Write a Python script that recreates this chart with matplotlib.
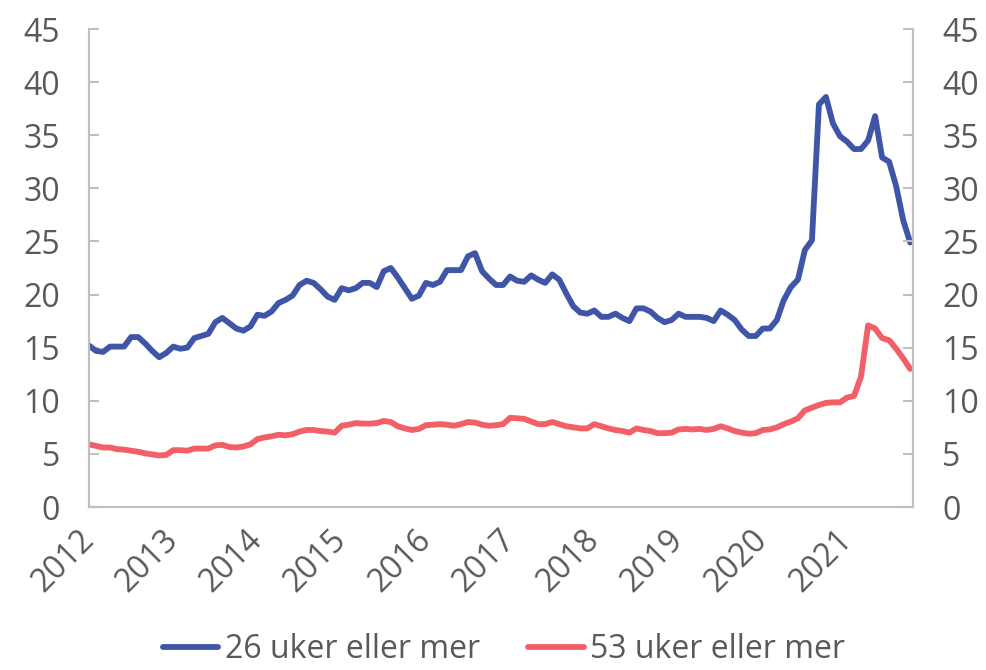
import matplotlib
matplotlib.use("Agg")
import matplotlib.pyplot as plt
import matplotlib.transforms as mtransforms
import numpy as np

plt.rcParams['font.family'] = ['Open Sans', 'DejaVu Sans']

years = ['2012', '2013', '2014', '2015', '2016', '2017', '2018', '2019', '2020', '2021']

uker26 = [15.2, 14.7, 14.6, 15.1, 15.1, 15.1, 16.0, 16.0, 15.4, 14.7, 14.1, 14.5,
          15.1, 14.9, 15.0, 15.9, 16.1, 16.3, 17.4, 17.8, 17.3, 16.8, 16.6, 17.0,
          18.1, 18.0, 18.4, 19.2, 19.5, 19.9, 20.9, 21.3, 21.1, 20.5, 19.8, 19.5,
          20.6, 20.4, 20.6, 21.1, 21.1, 20.7, 22.2, 22.5, 21.6, 20.6, 19.6, 19.9,
          21.1, 20.9, 21.2, 22.3, 22.3, 22.3, 23.6, 23.9, 22.2, 21.5, 20.9, 20.9,
          21.7, 21.3, 21.2, 21.8, 21.4, 21.1, 21.9, 21.4, 20.1, 18.9, 18.3, 18.2,
          18.5, 17.9, 17.9, 18.2, 17.8, 17.5, 18.7, 18.7, 18.4, 17.8, 17.4, 17.6,
          18.2, 17.9, 17.9, 17.9, 17.8, 17.5, 18.5, 18.1, 17.6, 16.7, 16.1, 16.1,
          16.8, 16.8, 17.6, 19.5, 20.7, 21.4, 24.2, 25.1, 37.9, 38.6, 36.1, 34.9,
          34.4, 33.7, 33.7, 34.5, 36.8, 32.9, 32.5, 30.2, 27.0, 24.9]

uker53 = [5.9, 5.75, 5.6, 5.6, 5.45, 5.4, 5.3, 5.2, 5.05, 4.95, 4.85, 4.9,
          5.35, 5.35, 5.3, 5.5, 5.5, 5.5, 5.8, 5.85, 5.65, 5.6, 5.7, 5.9,
          6.4, 6.55, 6.65, 6.8, 6.75, 6.85, 7.1, 7.25, 7.25, 7.15, 7.1, 7.0,
          7.65, 7.75, 7.9, 7.85, 7.85, 7.9, 8.1, 8.0, 7.6, 7.4, 7.25, 7.35,
          7.7, 7.75, 7.8, 7.75, 7.65, 7.8, 8.0, 7.95, 7.75, 7.65, 7.7, 7.8,
          8.4, 8.35, 8.3, 8.05, 7.8, 7.8, 8.0, 7.8, 7.6, 7.5, 7.4, 7.4,
          7.8, 7.6, 7.4, 7.25, 7.15, 7.0, 7.4, 7.25, 7.15, 6.95, 6.95, 7.0,
          7.3, 7.35, 7.3, 7.35, 7.25, 7.35, 7.6, 7.4, 7.15, 7.0, 6.9, 6.95,
          7.25, 7.3, 7.5, 7.8, 8.05, 8.35, 9.1, 9.35, 9.6, 9.8, 9.85, 9.85,
          10.3, 10.45, 12.3, 17.1, 16.8, 15.9, 15.7, 14.9, 14.0, 13.0]

labels = ['26 uker eller mer', '53 uker eller mer']

BLUE = '#3F56A8'
RED = '#F25F66'
GREY_TXT = '#595959'
GREY_AX = '#BFBFBF'
FS = 23

fig = plt.figure(figsize=(9.86, 6.70), dpi=100)
ax = fig.add_axes([89/986, 1-507/670, (913-89)/986, (507-29)/670])

x = np.arange(len(uker26))
l1, = ax.plot(x, uker26, color=BLUE, lw=4.2, solid_joinstyle='round', solid_capstyle='round', label=labels[0])
l2, = ax.plot(x, uker53, color=RED, lw=4.2, solid_joinstyle='round', solid_capstyle='round', label=labels[1])

ax.set_xlim(0, len(uker26) - 1 + 0.4)
ax.set_ylim(0, 45)
yt = np.arange(0, 46, 5)
ax.set_yticks(yt)
ax.set_yticklabels([str(v) for v in yt])
ax.set_xticks(np.arange(0, 12 * len(years), 12))
ax.set_xticklabels(years, rotation=45, ha='right', va='center', rotation_mode='anchor')

offset = mtransforms.ScaledTranslation(6/100, -3/100, fig.dpi_scale_trans)
for lab in ax.get_xticklabels():
    lab.set_transform(lab.get_transform() + offset)

for s in ['left', 'right', 'bottom']:
    ax.spines[s].set_color(GREY_AX)
    ax.spines[s].set_linewidth(1.5)
ax.spines['top'].set_visible(False)

ax.tick_params(axis='y', direction='in', length=7.5, width=1.5, color=GREY_AX,
               labelsize=FS, labelcolor=GREY_TXT, pad=21)
ax.tick_params(axis='x', length=0, labelsize=FS, labelcolor=GREY_TXT, pad=20)

ax2 = ax.twinx()
ax2.set_ylim(0, 45)
ax2.set_yticks(yt)
ax2.set_yticklabels([str(v) for v in yt])
ax2.tick_params(axis='y', direction='in', length=7.5, width=1.5, color=GREY_AX,
                labelsize=FS, labelcolor=GREY_TXT, pad=21)
for s in ['left', 'right', 'bottom']:
    ax2.spines[s].set_color(GREY_AX)
    ax2.spines[s].set_linewidth(1.5)
ax2.spines['top'].set_visible(False)

leg = fig.legend(handles=[l1, l2], labels=labels, loc='center', bbox_to_anchor=(0.511, 0.03),
                 ncol=2, frameon=False, fontsize=FS, handlelength=1.75, handletextpad=0.2,
                 columnspacing=1.5, labelcolor=GREY_TXT, borderpad=0.1)

fig.savefig('out.png', dpi=100)
